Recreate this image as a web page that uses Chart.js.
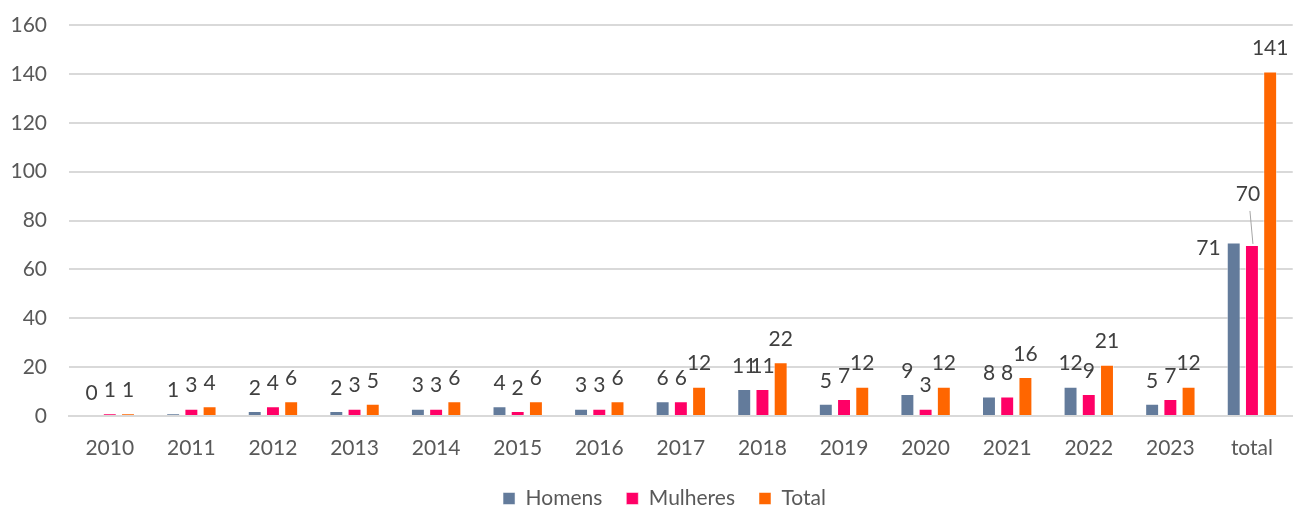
<!DOCTYPE html>
<html>
<head>
<meta charset="utf-8">
<script src="https://cdn.jsdelivr.net/npm/chart.js@4.4.0/dist/chart.umd.min.js"></script>
<style>
  html, body { margin: 0; padding: 0; background: #fff; }
  #wrap { width: 1293px; height: 509px; }
</style>
</head>
<body>
<div id="wrap"><canvas id="chart" width="1293" height="509"></canvas></div>
<script>
// categories and series
const years = ['2010', '2011', '2012', '2013', '2014', '2015', '2016', '2017', '2018', '2019', '2020', '2021', '2022', '2023', 'total'];
const homens = [0, 1, 2, 2, 3, 4, 3, 6, 11, 5, 9, 8, 12, 5, 71];
const mulheres = [1, 3, 4, 3, 3, 2, 3, 6, 11, 7, 3, 8, 9, 7, 70];
const totals = [1, 4, 6, 5, 6, 6, 6, 12, 22, 12, 12, 16, 21, 12, 141];
const yTicks = [0, 20, 40, 60, 80, 100, 120, 140, 160];

const FONT = 'Lato, "Open Sans", sans-serif';

// value labels above each bar, Excel style
const barLabels = {
  id: 'barLabels',
  afterDatasetsDraw(chart) {
    const ctx = chart.ctx;
    ctx.save();
    ctx.font = '21px ' + FONT;
    ctx.fillStyle = '#404040';
    ctx.textAlign = 'center';
    ctx.textBaseline = 'middle';
    chart.data.datasets.forEach((ds, di) => {
      const meta = chart.getDatasetMeta(di);
      meta.data.forEach((bar, i) => {
        const v = ds.data[i];
        let x = bar.x, y = bar.y - 23;
        const last = i === ds.data.length - 1;
        if (last && di === 0) {
          // moved to the left of the bar
          ctx.textAlign = 'right';
          ctx.fillText(v, bar.x - 13, bar.y + 6);
          ctx.textAlign = 'center';
          return;
        }
        if (last && di === 1) {
          // lifted up with a leader line
          x = bar.x - 4; y = bar.y - 51;
          ctx.strokeStyle = '#a6a6a6';
          ctx.lineWidth = 1;
          ctx.beginPath();
          ctx.moveTo(bar.x - 2, bar.y - 34);
          ctx.lineTo(bar.x + 1, bar.y - 1);
          ctx.stroke();
        }
        ctx.fillText(v, x, y);
      });
    });
    ctx.restore();
  }
};

// the legend sits a bit right of the canvas centre in the original
const legendShift = {
  id: 'legendShift',
  afterLayout(chart) {
    if (chart.legend) {
      chart.legend.left += 16;
      chart.legend.right += 16;
    }
  }
};

new Chart(document.getElementById('chart'), {
  type: 'bar',
  data: {
    labels: years,
    datasets: [
      { label: 'Homens', data: homens, backgroundColor: '#637b9b', borderColor: 'rgba(255,255,255,0.5)', borderWidth: 1 },
      { label: 'Mulheres', data: mulheres, backgroundColor: '#ff0066', borderColor: 'rgba(255,255,255,0.5)', borderWidth: 1 },
      { label: 'Total', data: totals, backgroundColor: '#ff6600', borderColor: 'rgba(255,255,255,0.5)', borderWidth: 1 }
    ]
  },
  options: {
    responsive: false,
    animation: false,
    categoryPercentage: 0.67,
    barPercentage: 0.765,
    layout: { padding: { top: 25, right: -4, left: 0, bottom: -10 } },
    plugins: {
      tooltip: { enabled: false },
      legend: {
        position: 'bottom',
        labels: {
          font: { family: FONT, size: 21 },
          color: '#595959',
          boxWidth: 12,
          boxHeight: 12,
          padding: 24
        }
      }
    },
    scales: {
      x: {
        grid: { display: false, drawTicks: false },
        border: { color: '#d9d9d9', width: 2 },
        ticks: { color: '#595959', font: { family: FONT, size: 21 }, padding: 20 },
        afterFit(scale) { scale.height = 48; }
      },
      y: {
        min: 0,
        max: 160,
        afterBuildTicks(scale) { scale.ticks = yTicks.map(v => ({ value: v })); },
        grid: { color: '#d9d9d9', lineWidth: 2, drawTicks: true, tickLength: 20, tickColor: 'rgba(0,0,0,0)' },
        border: { display: false },
        ticks: { color: '#595959', font: { family: FONT, size: 21 }, padding: 2 },
        afterFit(scale) { scale.width = 69; }
      }
    }
  },
  plugins: [barLabels, legendShift]
});
</script>
</body>
</html>
